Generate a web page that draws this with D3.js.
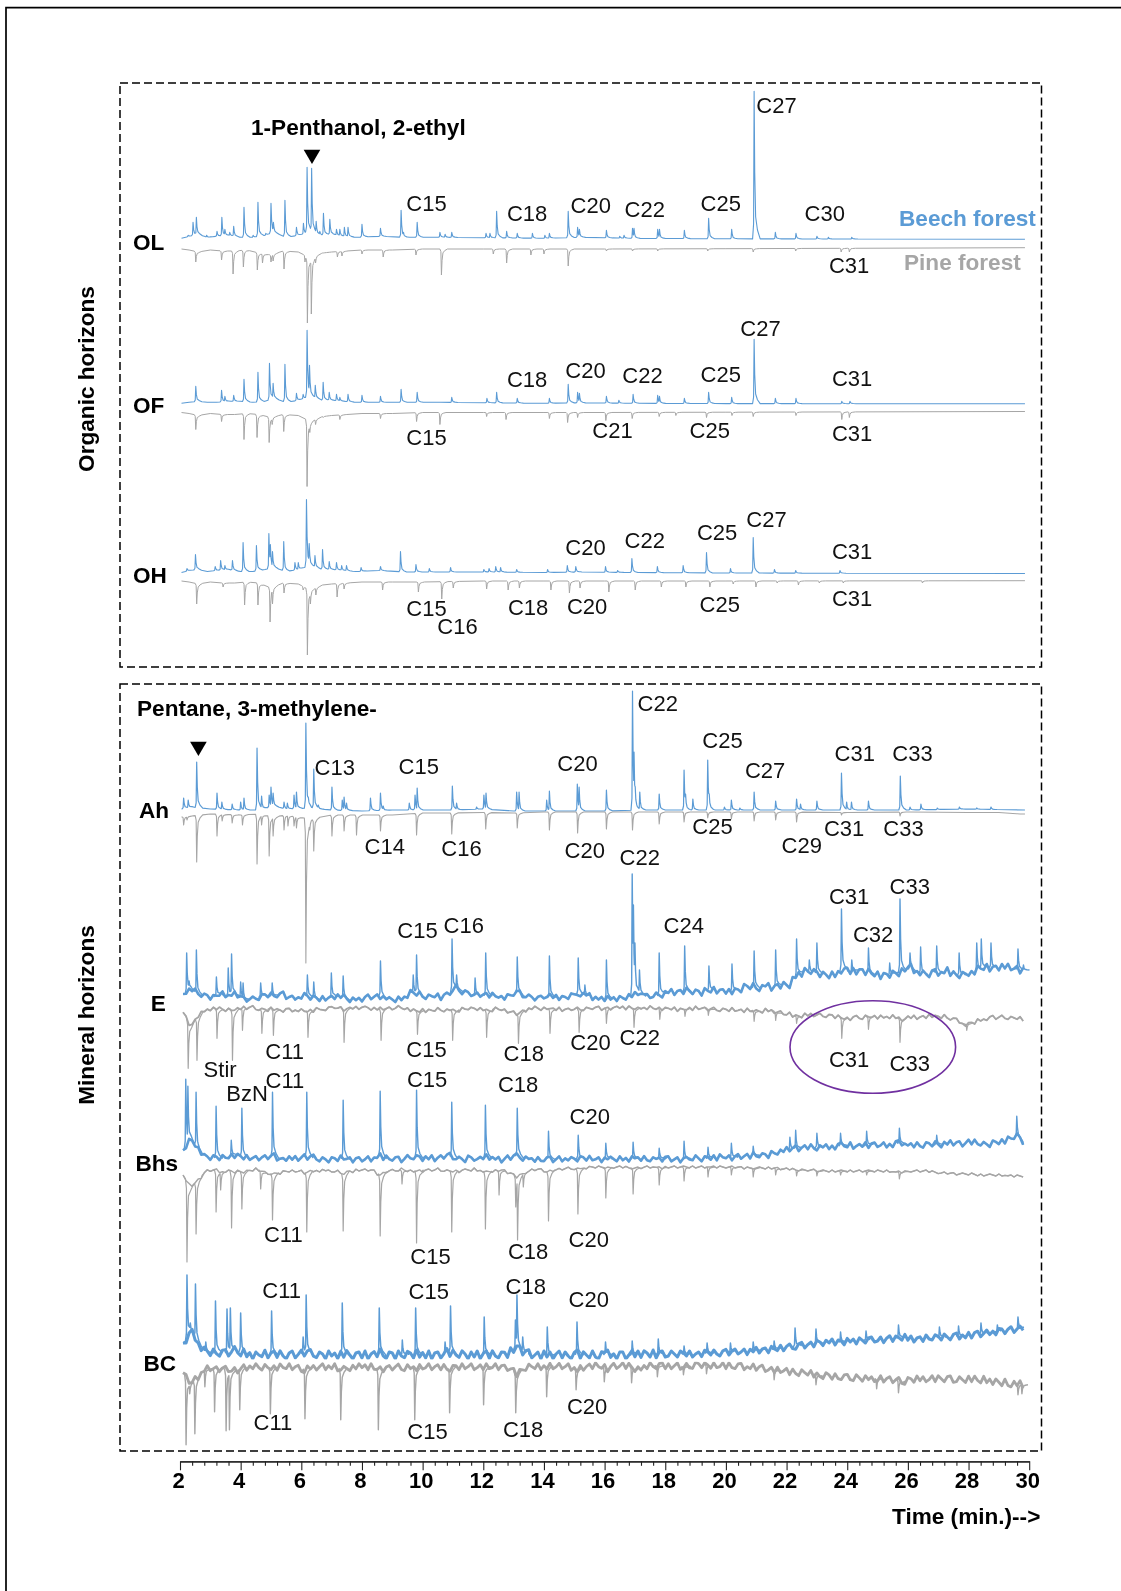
<!DOCTYPE html>
<html>
<head>
<meta charset="utf-8">
<style>
html, body { margin: 0; padding: 0; background: #fff; }
svg { display: block; font-family: "Liberation Sans", Arial, sans-serif; filter: blur(0.35px); }
.peak { font-size: 22px; fill: #111; }
.bold { font-size: 22.6px; font-weight: bold; fill: #000; }
</style>
<script src="https://cdn.jsdelivr.net/npm/d3@7"></script>
</head>
<body>
<svg id="chart" width="1121" height="1591"></svg>
<script>
"use strict";

// x axis
var majorTicks = [2, 4, 6, 8, 10, 12, 14, 16, 18, 20, 22, 24, 26, 28, 30];
var axisTitle = 'Time (min.)-->';

// knots of the slow baseline in the organic horizons
var beechKnotT = [2.05, 2.3, 2.6, 2.9, 3.2, 3.6, 4, 4.4, 4.8, 5.1, 5.5, 5.9, 6.3, 6.7, 7, 7.4, 7.8, 8.6, 9.4, 10.6, 12.3, 14, 15.2, 16.9, 20, 29.86];
var pineKnotT = [2.05, 2.3, 2.6, 3, 3.4, 3.8, 4.2, 4.6, 5, 5.4, 5.9, 6.3, 6.7, 7, 7.5, 8, 9, 10, 12, 14, 16, 20, 29.86];

// OL
var olBeechBaseV = [0, 2, 4, 1, 2, 3, 1, 1, 3, 6, 1, 3, 6, 3, 4, 2, 1, 2, 1, 1, 0.5, 0, 1, 0, -0.5, -1];
var olBeechT = [2.27, 2.43, 2.54, 2.88, 3.22, 3.38, 3.48, 3.64, 3.77, 4.11, 4.41, 4.57, 4.83, 5.0, 5.08, 5.46, 5.84, 6.07, 6.19, 6.34, 6.49, 6.61, 6.73, 6.94, 7.16, 7.27, 7.42, 7.54, 8.0, 8.61, 9.29, 9.37, 9.82, 10.57, 10.74, 10.96, 12.09, 12.22, 12.44, 12.77, 13.12, 13.62, 14.03, 14.18, 14.8, 15.11, 15.17, 16.06, 16.5, 16.64, 16.92, 16.97, 17.75, 17.81, 18.63, 19.43, 20.19, 20.93, 21.63, 22.31, 23.0, 23.38, 24.15];
var olBeechH = [3, 16, 21, 3, 7, 21, 9, 6, 12, 31, 3, 36, 5, 35, 16, 38, 11, 15, 71, 70, 17, 7, 25, 19, 9, 9, 11, 11, 14, 10, 28, 6, 16, 6, 4, 6, 5, 5, 27, 7, 5, 5, 3, 5, 27, 11, 9, 8, 2, 3, 10, 10, 9, 9, 8, 20, 9, 147, 6, 5, 2, 1, 1];
var olPineBaseV = [0, 1, 3, 1, 2, 2, 1, 4, 6, 2, 3, 9, 4, 3, 2, 1, 1, 0, 0, 0, 0, -0.3, -1.3];
var olPineT = [2.52, 3.37, 3.75, 4.09, 4.55, 4.72, 5.0, 5.07, 5.43, 6.12, 6.2, 6.33, 6.47, 6.72, 7.19, 7.34, 8.0, 8.7, 9.78, 10.62, 12.33, 12.77, 13.57, 14.0, 14.8, 16.06, 16.92, 17.75, 19.4, 20.9, 22.3, 23.8, 24.07];
var olPineH = [13, 11, 25, 18, 21, 14, 13, 12, 20, 13, 74, 65, 14, 4, 8, 7, 5, 8, 6, 26, 5, 14, 6, 5, 17, 2, 2, 2, 2, 3, 2, 3, 3];

// OF
var ofBeechBaseV = [0, 1, 2, 1, 1, 2, 2, 1, 2, 5, 1, 3, 7, 3, 3, 2, 1, 1, 1, 1, 0.5, 0, 0.5, 0, -0.3, -0.5];
var ofBeechT = [2.52, 3.37, 3.48, 3.77, 4.11, 4.57, 4.95, 5.07, 5.46, 5.84, 6.06, 6.19, 6.27, 6.46, 6.72, 6.92, 7.16, 7.27, 7.54, 8.0, 8.61, 9.29, 9.82, 10.96, 12.12, 12.44, 13.12, 14.18, 14.8, 15.11, 15.17, 16.06, 16.47, 16.94, 17.75, 17.81, 18.63, 19.43, 20.19, 20.93, 21.63, 22.31, 23.82, 24.09];
var ofBeechH = [17, 13, 7, 8, 24, 31, 40, 20, 39, 10, 9, 73, 38, 18, 21, 11, 9, 6, 9, 8, 7, 14, 11, 6, 5, 11, 5, 5, 19, 11, 10, 7, 3, 9, 8, 7, 5, 11, 6, 64, 5, 5, 2, 2];
var ofPineBaseV = [0, 1, 3, 1, 2, 2, 1, 2, 5, 2, 3, 9, 4, 3, 2, 1, 1, 0, 0, 0, 0, -0.3, -1];
var ofPineT = [2.52, 3.37, 4.11, 4.54, 4.94, 5.04, 5.42, 6.19, 6.28, 6.47, 6.72, 7.27, 8.61, 9.8, 10.57, 12.11, 12.75, 14.18, 14.78, 15.11, 16.04, 16.91, 17.8, 18.35, 19.36, 20.2, 20.9, 22.31, 23.82, 24.07];
var ofPineH = [17, 9, 27, 25, 30, 12, 19, 74, 20, 12, 5, 7, 6, 9, 12, 4, 7, 6, 10, 5, 8, 6, 4, 3, 5, 3, 4, 3, 7, 5];

// OH
var ohBeechBaseV = [0, 2, 3, 1, 2, 3, 1, 1, 3, 5, 1, 3, 7, 3, 3, 2, 1, 2, 0.5, 0.5, 0.5, 0, 0.5, 0, -0.5, -1];
var ohBeechT = [2.23, 2.51, 3.16, 3.34, 3.48, 3.73, 4.08, 4.52, 4.93, 4.98, 5.05, 5.42, 5.79, 5.9, 6.17, 6.26, 6.45, 6.7, 6.92, 7.16, 7.33, 7.49, 7.97, 8.61, 9.27, 9.78, 10.22, 10.92, 12.02, 12.19, 12.41, 12.57, 13.1, 14.12, 14.77, 15.05, 16.03, 16.43, 16.9, 17.74, 18.59, 19.36, 20.15, 20.9, 21.6, 22.3, 23.76];
var ohBeechH = [4, 18, 6, 12, 7, 12, 30, 27, 39, 28, 21, 31, 10, 10, 73, 29, 17, 23, 11, 10, 7, 7, 5, 6, 21, 8, 4, 5, 3, 4, 6, 5, 3, 3, 7, 6, 6, 2, 14, 6, 7, 20, 4, 35, 3, 2, 2];
var ohPineBaseV = [0, 1, 3, 1, 2, 2, 1, 2, 7, 2, 3, 9, 4, 3, 2, 1, 1, 1, 0, 0, 0, 0, -0.3];
var ohPineT = [2.55, 3.42, 4.13, 4.57, 4.97, 5.05, 5.43, 6.06, 6.2, 6.3, 6.48, 7.18, 7.41, 8.68, 9.86, 10.63, 11.01, 12.11, 12.82, 13.19, 14.23, 14.84, 15.19, 16.14, 17.01, 17.87, 18.68, 19.47, 20.24, 20.99, 21.69, 22.39, 23.08, 23.87, 26.48];
var ohPineH = [23, 6, 24, 24, 41, 23, 12, 9, 74, 23, 14, 16, 8, 9, 11, 18, 7, 8, 9, 7, 9, 12, 7, 11, 9, 6, 6, 6, 3, 6, 2, 4, 2, 2, 2];

// Ah
var ahBeechBaseT = [2.05, 2.4, 3, 4, 4.6, 5.1, 5.5, 6.3, 7, 8, 9, 10, 11, 12, 13, 14, 15, 16, 17.2, 18, 20, 22, 24, 26, 28, 29.86];
var ahBeechBaseV = [2, 4, 2, 1, 1, 5, 2, 3, 1, 0, 1, 1, 1, 2, 0, 0, 0, 0, 1, 1, 1, 1, 1, 1, 2, 1];
var ahBeechT = [2.12, 2.27, 2.55, 3.22, 3.38, 3.72, 4.0, 4.11, 4.54, 4.69, 4.94, 5.0, 5.07, 5.43, 5.54, 5.76, 5.84, 6.15, 6.23, 6.41, 6.56, 7.01, 7.35, 7.41, 7.49, 8.28, 8.61, 8.7, 9.56, 9.75, 9.82, 10.98, 11.12, 11.78, 12.02, 12.09, 13.1, 13.18, 14.09, 14.18, 15.1, 15.16, 16.06, 16.92, 16.97, 17.01, 17.16, 17.8, 18.62, 18.67, 18.91, 19.4, 19.45, 19.95, 20.18, 20.46, 20.93, 21.64, 22.33, 22.46, 23.0, 23.81, 23.98, 24.14, 24.7, 25.75, 26.07, 26.43, 26.97, 27.7, 28.27, 28.74];
var ahBeechH = [13, 11, 49, 18, 9, 7, 9, 13, 63, 15, 16, 24, 18, 9, 8, 16, 19, 88, 14, 42, 6, 24, 11, 14, 8, 13, 18, 5, 8, 16, 23, 25, 8, 4, 16, 18, 19, 19, 11, 20, 27, 24, 21, 120, 59, 24, 19, 17, 41, 17, 12, 51, 17, 4, 11, 3, 19, 10, 12, 7, 10, 38, 9, 9, 10, 35, 4, 7, 3, 4, 3, 4];
var ahPineBaseT = [2.05, 2.4, 3, 4, 4.6, 5.1, 5.5, 6.3, 7, 8, 9, 10, 11, 12, 13, 14, 15, 16, 18, 20, 22, 24, 26, 28, 29, 29.7, 29.86];
var ahPineBaseV = [4, 3, 1, 2, 1, 4, 2, 6, 2, 2, 2, 0, 0, -0.5, 0, -1, -1, -1, -1, -1, -1, -0.5, -1, -0.5, -0.5, 1, 1];
var ahPineT = [2.12, 2.23, 2.55, 3.22, 3.39, 3.72, 4.06, 4.54, 4.69, 4.94, 5.07, 5.43, 5.56, 5.76, 5.84, 6.15, 6.28, 6.41, 7.01, 7.41, 7.82, 8.61, 9.8, 10.96, 12.08, 13.12, 14.18, 15.11, 16.06, 16.92, 17.8, 18.62, 19.4, 20.18, 20.93, 21.64, 22.33, 23.81, 25.74];
var ahPineH = [12, 7, 49, 23, 8, 10, 12, 51, 12, 43, 23, 17, 13, 13, 15, 150, 17, 38, 23, 18, 22, 18, 22, 21, 16, 15, 17, 20, 16, 17, 11, 9, 5, 6, 8, 7, 9, 2, 3];

// E
var eBeechBase = [
    1, 9, 3, 1, 0, 3, 1, 4, -3, -2, 0, 2, 1, 3, 0, -2,
    2, 0, -3, -1, 1, 0, -3, -2, -1, 0, 1, -2, -3, -2, 5, 3,
    0, 1, 0, 3, 9, 5, 3, 1, 2, 1, 0, 1, 5, 1, 0, -1,
    0, 0, 0, 0, 3, 2, 0, -2, -2, -1, -1, 0, 5, 1, 1, 2,
    5, 5, 5, 6, 5, 6, 7, 6, 5, 7, 10, 10, 9, 11, 10, 12,
    12, 22, 26, 25, 24, 22, 21, 28, 25, 27, 25, 23, 22, 22, 24, 26,
    29, 24, 23, 25, 24, 26, 22, 22, 24, 28, 30, 29, 30, 29, 28, 27
];
var eBeechT = [2.22, 2.3, 2.54, 3.2, 3.59, 3.7, 4.0, 4.08, 4.66, 5.04, 6.2, 6.41, 6.99, 7.38, 8.61, 9.69, 9.8, 10.97, 11.12, 11.73, 12.08, 13.12, 14.18, 15.13, 15.35, 16.06, 16.91, 16.95, 17.0, 17.15, 17.8, 18.64, 19.44, 20.2, 20.93, 21.64, 22.33, 22.75, 23.0, 23.81, 24.15, 24.7, 25.4, 25.74, 26.07, 26.42, 26.95, 27.69, 28.27, 28.42, 28.74, 29.63, 29.81];
var eBeechH = [44, 16, 47, 20, 29, 43, 15, 14, 14, 14, 22, 15, 24, 21, 36, 22, 42, 58, 22, 19, 44, 40, 41, 39, 12, 37, 123, 92, 54, 27, 44, 51, 31, 33, 46, 47, 58, 37, 54, 88, 37, 49, 34, 98, 44, 50, 51, 44, 54, 58, 54, 48, 32];
var eBeechNoise = [
    2, -1, 1, -2, 3, 0, -2, 2, 1, -3, 2, 0, -1, 3, -2, 1, -1, 2, -3, 1,
    3, -2, 0, 2, -1, -3, 2, 1, -2, 3, 0, -2, 1, 3, -3, 0, 2, -1, 1, -2,
    2, 0, -3, 2, 1, -1, 3, -2, 0, 1, -3, 2, -1, 3, 0, -2, 2, -1, 1, -3,
    1, 3, -2, 0, 2, -3, 1, -1, 2, 0, -2, 3, -1, 1, -3, 2, 0, -2, 3, -1,
    -2, 2, 0, -1, 3, -3, 1, 2, -2, 0, 3, -1, -3, 2, 1, -2, 0, 3, -1, 1,
    2, -2, 3, 0, -1, 1, -3, 2, 0, -2, 1, 3, -2, -1, 2, 0, -3, 1, 2, -1,
    0, 3, -1, 2, -3, 1, 0, -2, 3, 1, -1, -2, 2, 0, 3, -3, 1, -1, 2, -2,
    3, -1, 1, -3, 2, 0, -2, 3, -1, 2, -3, 0, 1, 2, -2, -1, 3, 0, -3, 2,
    -1, 3, -3, 1, 2, -2, 4, 0, -3, 2, 1, -4, 3, 0, -2, 3, -3, 1, 2, -2,
    3, -3, 2, 0, -4, 3, 1, -2, 4, -1, -3, 2, 0, 3, -4, 1, 2, -3, 3, 0,
    -3, 4, -1, 2, -4, 3, 0, -2, 3, 1, -4, 2, 0, -3, 4, -1, 2, -3, 1, 3,
    -2, 3, -4, 1, 2, -3, 4, 0, -2, 3, -4, 2, 1, -3, 3, 0, -4, 3, -1, 2,
    4, -3, 1, -2, 3, 0, -4, 2, 3, -3, 1, -1, 4, -4, 2, 0, -3, 3, 1, -2,
    2, -3, 4, 0, -2, 3, -4, 1, 2, -3, 3, -1, 4, -2, 0, 3, -4, 2, -1, 1
];
var ePineBase = [
    3, 18, 8, 1, 0, 1, 1, 2, -1, -1, 1, 1, 1, 2, 1, 2,
    3, 2, 1, 0, -1, 1, 0, -1, -1, 0, 1, 0, -1, 0, 1, 3,
    2, 2, 1, 2, 2, 1, 0, 0, 2, 1, 1, 3, 6, 2, 0, 0,
    0, 1, 1, 1, 1, 0, 0, 0, 0, -1, -1, 0, 0, -1, 0, 0,
    0, 1, 1, 0, 0, 0, 1, 1, 1, 2, 2, 2, 3, 2, 3, 5,
    6, 8, 7, 6, 7, 7, 8, 10, 10, 9, 9, 8, 9, 8, 9, 11,
    9, 9, 8, 8, 8, 9, 12, 16, 15, 12, 10, 9, 9, 9, 10, 11
];
var ePineT = [2.27, 2.56, 3.22, 3.73, 4.06, 4.7, 5.08, 6.22, 7.41, 8.63, 9.83, 10.99, 12.11, 13.16, 14.2, 15.16, 16.06, 16.97, 17.82, 18.65, 19.42, 20.93, 21.64, 22.33, 23.82, 24.7, 25.74, 27.94];
var ePineH = [60, 52, 30, 52, 22, 25, 27, 29, 34, 32, 26, 32, 29, 35, 25, 24, 15, 19, 11, 8, 7, 13, 12, 15, 30, 21, 34, 22];
var ePineNoise = [
    1, -1, 2, 0, -1, 1, -2, 1, 0, 2, -1, 1, -2, 0, 2, -1, 1, 0, -2, 1,
    -1, 2, 0, -2, 1, 1, -1, 0, 2, -2, 1, -1, 0, 2, -1, -1, 2, 0, 1, -2,
    0, 1, -1, 2, -2, 0, 1, 2, -1, -1, 1, 0, -2, 2, 0, -1, 1, -1, 2, 0,
    -1, 0, 2, -1, 1, -2, 1, 0, -1, 2, 1, -2, 0, 1, -1, 2, -1, 0, 1, -2,
    2, -1, 0, 1, -2, 1, 2, -1, 0, -1, 1, 2, -2, 0, 1, -1, 0, 2, -1, 1,
    -1, 1, 2, -2, 0, 1, -1, 2, 0, -2, 1, 0, -1, 2, -1, 1, -2, 0, 2, -1,
    1, 0, -1, 1, -2, 2, 0, -1, 1, 0, -2, 1, 2, -1, 0, 1, -1, -2, 2, 0,
    -1, 2, 0, -1, 1, -1, 2, -2, 0, 1, -1, 1, 0, 2, -2, 0, 1, -1, 2, -1,
    0, 1, -2, 2, -1, 0, 1, -1, 2, -2, 1, 0, -1, 2, 0, -2, 1, 2, -1, 0,
    2, -2, 1, 0, -1, 2, -2, 1, 1, -1, 0, 2, -2, 1, -1, 2, 0, -2, 1, 1,
    -2, 2, -1, 0, 2, -2, 1, -1, 2, 0, -2, 1, 2, -1, -1, 2, -2, 0, 1, -1,
    2, -1, -2, 1, 2, -2, 0, 1, -1, 2, -2, 1, 0, 2, -2, 1, -1, 2, 0, -2,
    1, -2, 2, 0, -1, 2, -2, 1, -1, 0, 2, -2, 1, 2, -1, -2, 1, 0, 2, -1,
    -1, 2, -2, 1, 0, 2, -1, -2, 2, 0, -2, 1, 2, -1, 0, 1, -2, 2, -1, 1
];

// Bhs
var bhsBeechBase = [
    7, 20, 8, 2, 1, 0, 1, 4, 1, -1, 1, 1, 2, -1, 0, -1,
    2, 1, -1, -1, -1, 0, -1, -1, -1, -1, 3, -1, 0, -1, 1, 1,
    0, 0, 1, 3, 0, -1, 0, -1, 1, 0, -1, 0, 3, 0, -1, -2,
    0, -1, -1, -1, 0, 0, -1, -1, 0, -1, -1, 0, 0, -1, -1, 0,
    -1, -1, -1, 0, 0, 0, 1, 1, 1, 1, 2, 3, 3, 3, 5, 7,
    9, 10, 11, 11, 11, 11, 12, 13, 13, 12, 13, 14, 13, 13, 15, 15,
    13, 13, 14, 14, 14, 15, 15, 15, 16, 15, 14, 15, 17, 19, 23, 15
];
var bhsBeechT = [2.19, 2.26, 2.53, 3.19, 3.69, 4.04, 5.05, 6.18, 7.38, 8.6, 9.8, 10.96, 12.07, 13.12, 14.15, 15.13, 16.04, 16.94, 17.8, 18.62, 19.41, 20.18, 20.9, 22.11, 22.3, 23.0, 23.78, 24.64, 25.72, 26.95, 29.59];
var bhsBeechH = [79, 72, 66, 52, 18, 50, 66, 66, 58, 67, 68, 56, 53, 50, 27, 23, 15, 16, 10, 17, 11, 15, 12, 21, 28, 25, 25, 27, 30, 23, 42];
var bhsBeechNoise = [
    1, -2, 2, 0, -1, 3, -2, 1, 0, -3, 2, 1, -2, 3, 0, -1, 2, -3, 1, 0,
    -2, 3, -1, 1, 2, -3, 0, 2, -2, 1, 3, -3, 0, 1, -2, 2, -1, 3, -2, 0,
    2, -3, 1, 3, -1, -2, 2, 0, -3, 2, 1, -2, 3, -1, 0, 2, -3, 1, 2, -2,
    0, 3, -2, 1, -1, 2, -3, 3, 0, -2, 1, 2, -3, 0, 3, -1, -2, 2, 1, -3,
    2, -1, 3, -3, 0, 2, -2, 1, 3, -2, -1, 2, 0, -3, 3, 1, -2, 0, 2, -1,
    3, -2, 1, -1, 2, -3, 0, 3, -2, 1, 2, -1, -3, 2, 0, 1, -2, 3, -1, -2,
    1, 2, -3, 0, 3, -2, 1, -1, 2, 0, -3, 2, 1, -2, 3, -1, 0, 2, -3, 1,
    -1, 2, 0, -2, 3, -1, 1, -3, 2, 0, 1, -2, 3, -1, -2, 2, 0, 1, -3, 2,
    3, -2, 0, 2, -3, 1, 2, -1, -2, 3, 0, -3, 2, 1, -2, 2, -3, 3, 0, -1,
    2, -3, 1, 3, -2, 0, 2, -3, 3, -1, -2, 2, 1, -3, 3, 0, -2, 2, -1, 3,
    -2, 1, 3, -3, 0, 2, -2, 3, -1, -3, 2, 0, 3, -2, 1, -3, 2, 3, -1, -2,
    3, -3, 0, 2, -1, 3, -3, 1, 2, -2, 0, 3, -2, 1, -3, 2, 3, -2, 0, -1,
    2, -2, 3, -1, -3, 2, 1, -2, 3, 0, -3, 2, -1, 3, -2, 1, 2, -3, 0, 3,
    -2, 3, -1, -2, 2, 0, -3, 3, 1, -2, 2, -3, 3, 0, -2, 2, 1, -3, 3, -1
];
var bhsPineBase = [
    5, 17, 10, 1, 0, 2, 1, 1, 2, 0, 0, 3, 4, 2, 1, 1,
    3, 1, 0, 1, 1, 4, 1, 0, 0, 0, 5, 1, 0, 0, 1, 1,
    0, 0, 0, 1, 1, 0, 0, 0, 2, 1, 0, 2, 7, 3, 0, -1,
    2, 0, -1, -2, -1, -2, -3, -3, -2, -3, -3, -2, -2, -3, -3, -2,
    -3, -3, -3, -3, -3, -3, -3, -3, -3, -3, -2, -2, -2, -2, -2, -1,
    -1, 0, 0, 0, 1, 1, 1, 1, 1, 1, 1, 1, 1, 1, 2, 2,
    1, 1, 1, 2, 3, 3, 4, 4, 4, 5, 5, 5, 5, 6, 6, 6
];
var bhsPineT = [2.23, 2.53, 3.19, 3.34, 3.7, 4.04, 4.66, 5.05, 6.18, 7.38, 8.6, 9.32, 9.8, 10.96, 12.07, 12.52, 13.07, 13.13, 13.32, 14.15, 15.12, 16.04, 16.94, 17.8, 18.62, 19.41, 20.18, 20.9, 21.64, 22.33, 23.0, 23.78, 24.64, 25.72];
var bhsPineH = [92, 64, 42, 20, 58, 39, 19, 50, 62, 61, 66, 14, 73, 62, 59, 25, 37, 70, 17, 51, 44, 28, 24, 15, 11, 7, 5, 7, 5, 6, 6, 5, 5, 9];
var bhsPineNoise = [
    0, 1, -1, 1, 0, -1, 2, 0, -1, 1, 0, -2, 1, 0, 1, -1, 0, 2, -1, 0,
    1, -1, 0, 1, -2, 1, 0, -1, 1, 1, -1, 0, 2, -1, 0, 1, -1, 1, 0, -2,
    1, 0, -1, 1, 0, 2, -1, 0, -1, 1, 1, -2, 0, 1, -1, 0, 2, -1, 1, 0,
    -1, 1, 0, -1, 2, 0, -1, 1, 0, -1, 1, 1, -2, 0, 1, -1, 1, 0, -1, 2,
    0, -1, 1, 0, -2, 1, 1, -1, 0, 1, -1, 2, 0, -1, 0, 1, -2, 1, 0, 1,
    -1, 0, 1, -1, 1, 0, -1, 2, 0, -1, 1, -1, 0, 1, 0, -1, 1, 0, -1, 1,
    0, -1, 1, 0, -1, 1, 0, -1, 1, 1, -1, 0, 0, 1, -1, 0, 1, -1, 0, 1,
    -1, 0, 1, 0, -1, 1, -1, 0, 1, 0, -1, 1, 0, -1, 1, 0, 0, -1, 1, -1,
    1, 0, -1, 1, 0, -1, 0, 1, -1, 1, 0, -1, 1, 0, 0, -1, 1, -1, 0, 1,
    0, -1, 1, 0, -1, 1, -1, 0, 1, 0, -1, 0, 1, -1, 1, 0, -1, 1, 0, -1,
    1, -1, 0, 1, -1, 0, 1, 0, -1, 1, 0, -1, 0, 1, -1, 1, 0, -1, 0, 1,
    -1, 1, 0, -1, 1, 0, -1, 0, 1, -1, 0, 1, -1, 1, 0, 0, -1, 1, -1, 0,
    1, 0, -1, 1, 0, -1, 1, -1, 0, 1, 0, -1, 1, 0, -1, 1, 0, -1, 0, 1,
    -1, 0, 1, -1, 1, 0, -1, 0, 1, -1, 1, 0, 0, -1, 1, -1, 0, 1, -1, 1
];

// BC
var bcBeechBase = [
    9, 24, 12, 3, 2, 3, 2, 5, 2, 0, 0, 1, 1, 0, 0, 0,
    3, 1, 0, 0, 0, 1, 0, 0, 0, 0, 2, 0, 0, 0, 1, 1,
    0, 0, 0, 3, 1, 0, 0, 0, 1, 0, 0, 2, 8, 3, 0, 0,
    0, 0, 0, 0, 1, 0, 0, 0, 1, 0, 0, 0, 2, 1, 1, 1,
    1, 1, 1, 1, 1, 2, 2, 2, 3, 3, 3, 4, 5, 5, 6, 7,
    8, 9, 10, 11, 12, 13, 13, 13, 14, 14, 15, 15, 15, 16, 17, 18,
    16, 16, 17, 17, 18, 18, 19, 19, 20, 21, 22, 23, 24, 25, 26, 28
];
var bcBeechT = [2.23, 2.34, 2.51, 2.85, 3.17, 3.55, 3.66, 4.0, 5.02, 6.06, 6.16, 7.35, 8.57, 9.33, 9.77, 10.74, 10.92, 12.03, 13.06, 13.11, 13.3, 14.11, 15.09, 16.03, 16.91, 17.77, 18.62, 19.38, 20.15, 20.9, 21.59, 22.28, 22.97, 23.78, 24.62, 25.69, 27.04, 27.67, 28.41, 28.95, 29.63];
var bcBeechH = [80, 32, 71, 13, 54, 46, 47, 42, 44, 18, 60, 52, 47, 15, 47, 13, 49, 38, 35, 60, 18, 28, 33, 13, 14, 16, 9, 12, 12, 13, 14, 27, 26, 23, 24, 30, 28, 29, 32, 30, 38];
var bcBeechNoise = [
    3, -3, 1, 4, -2, 0, -4, 3, 1, -3, 4, -1, -4, 2, 3, -3, 0, 4, -2, -4,
    4, -3, 2, -4, 3, 0, -2, 4, -4, 1, 3, -3, 4, -1, -4, 2, 4, -3, 0, 3,
    -4, 2, 4, -2, -3, 3, 1, -4, 4, -1, 2, -4, 3, -3, 4, 0, -4, 2, 3, -3,
    4, -4, 1, 3, -3, 4, -2, -4, 3, 2, -4, 4, -1, -3, 3, 1, -4, 4, -3, 2,
    -3, 4, -4, 2, 3, -3, 0, 4, -4, 3, -1, -3, 4, 1, -4, 3, -2, 4, -4, 1,
    3, -4, 4, -1, -3, 3, 2, -4, 4, -3, 1, 3, -4, 2, 4, -3, 0, 3, -4, 4,
    -2, 3, -4, 1, 4, -3, 3, -1, -4, 2, 4, -4, 3, 0, -3, 4, -2, -4, 3, 2,
    4, -3, 1, -4, 3, 3, -4, 0, 4, -3, 2, -4, 3, 1, -3, 4, -4, 2, 3, -3,
    -2, 3, 0, -3, 3, 1, -2, 3, -3, 0, 2, -3, 3, 1, -2, 3, -1, -3, 2, 3,
    -3, 1, 3, -2, 0, 3, -3, 2, -1, 3, -3, 1, 2, -3, 3, 0, -2, 3, -3, 1,
    3, -2, -3, 2, 3, -3, 0, 2, -3, 3, 1, -3, 2, -1, 3, -3, 2, 1, -3, 3,
    -1, 2, -3, 3, 0, -3, 2, 3, -2, -1, 3, -3, 1, 3, -3, 2, 0, -3, 3, -2,
    3, -3, 1, 2, -3, 3, -1, -2, 3, 1, -3, 3, 0, -3, 2, 3, -3, 1, -2, 3,
    -3, 2, 3, -3, 0, 3, -2, 1, -3, 3, 2, -3, 1, 3, -3, 0, 2, -3, 3, -1
];
var bcPineBase = [
    5, 17, 10, 2, 2, 2, 3, 4, 1, 0, 0, 1, 1, 0, 0, 0,
    3, 1, 0, 0, 0, 3, 1, 0, 0, 0, 3, 1, 0, 1, 1, 1,
    0, 0, 0, 2, 0, 0, 0, 0, 0, 0, 0, 1, 7, 1, 0, 0,
    0, -1, 0, 0, 3, 0, -1, -1, 2, -1, -2, 0, 3, -1, -1, -1,
    -1, -1, 0, -1, -2, -2, -1, -1, -1, -1, 0, 0, 1, 2, 3, 4,
    5, 6, 6, 7, 9, 9, 10, 10, 11, 11, 12, 12, 12, 13, 13, 15,
    13, 12, 12, 12, 12, 12, 13, 13, 12, 13, 14, 15, 16, 17, 18, 18
];
var bcPineT = [2.2, 2.32, 2.49, 2.82, 3.14, 3.52, 3.63, 3.97, 4.98, 6.12, 7.3, 8.54, 9.74, 10.89, 12.01, 13.07, 14.09, 15.06, 15.99, 16.89, 17.74, 18.6, 19.36, 21.59, 22.97, 24.97, 25.69, 29.63, 29.76];
var bcPineH = [78, 27, 67, 20, 45, 64, 63, 43, 47, 52, 53, 63, 53, 46, 38, 46, 30, 23, 15, 16, 10, 8, 7, 13, 18, 22, 26, 28, 27];
var bcPineNoise = [
    1, -2, 2, 0, -3, 3, -1, 1, -3, 2, 0, -2, 3, -1, -3, 2, 1, -3, 3, 0,
    -3, 3, -1, 2, -3, 1, 3, -3, 0, 2, -2, 3, -3, 1, 2, -3, 3, 0, -2, 3,
    3, -3, 1, -2, 3, 0, -3, 3, -1, 2, -3, 3, 1, -3, 0, 3, -2, 2, -3, 1,
    -2, 3, -3, 2, 1, -3, 3, -1, -2, 3, 0, -3, 2, 3, -3, 1, -1, 3, -3, 2,
    1, -3, 3, 0, -2, 3, -3, 1, 3, -2, -1, 3, -3, 2, 0, -3, 3, 1, -2, 3,
    -3, 2, 1, -3, 3, -1, -2, 3, 0, -3, 3, -2, 1, 3, -3, 0, 2, -3, 3, -1,
    2, -3, 3, 1, -3, 2, 0, -3, 3, -1, 2, -3, 3, 0, -2, 3, -3, 1, 2, -3,
    3, -1, -3, 3, 1, -2, 3, -3, 0, 3, -3, 2, -1, 3, -3, 1, 3, -2, -3, 3,
    -2, 3, 0, -3, 3, 1, -3, 2, 3, -3, -1, 3, -2, 0, 3, -3, 2, 1, -3, 3,
    -3, 2, 3, -2, -3, 3, 0, 2, -3, 3, -1, -3, 3, 1, -2, 3, -3, 2, 0, -3,
    3, -3, 1, 3, -3, 0, 2, -3, 3, -2, 1, 3, -3, -1, 3, -3, 2, 3, -2, -3,
    2, 3, -3, 0, 3, -3, 1, -2, 3, 2, -3, 3, -1, -3, 3, 0, -3, 2, 3, -3,
    -1, 3, -3, 2, -2, 3, 1, -3, 3, -3, 0, 3, -2, -3, 3, 2, -3, 0, 3, -3,
    3, -3, 1, 3, -4, 2, -2, 3, -3, 0, 3, -4, 2, 3, -3, 1, -4, 3, -2, 3
];

// layout from here on
var width = 1121;
var height = 1591;
var knotStep = 0.25;
var noiseStep = 0.1;
var beechColor = '#5b9bd5';
var pineColor = '#a6a6a6';

// x scale runs from the 2 tick to the 30 tick
var x = d3.scaleLinear().domain([2, 30]).range([180, 1029.2]);
var svg = d3.select('#chart');

function knotGrid(vals) {
    return d3.range(vals.length).map(i => 2.1 + i * knotStep);
}

// y0 is the zero line in page pixels, dir is 1 for beech (up) and -1 for pine (down)
var traces = [
    { baseT: beechKnotT, baseV: olBeechBaseV, t: olBeechT, h: olBeechH, y0: 238.3, dir: 1, color: beechColor, w: 1.1 },
    { baseT: pineKnotT, baseV: olPineBaseV, t: olPineT, h: olPineH, y0: 249, dir: -1, color: pineColor, w: 1 },
    { baseT: beechKnotT, baseV: ofBeechBaseV, t: ofBeechT, h: ofBeechH, y0: 403.3, dir: 1, color: beechColor, w: 1.1 },
    { baseT: pineKnotT, baseV: ofPineBaseV, t: ofPineT, h: ofPineH, y0: 412.5, dir: -1, color: pineColor, w: 1 },
    { baseT: beechKnotT, baseV: ohBeechBaseV, t: ohBeechT, h: ohBeechH, y0: 572.5, dir: 1, color: beechColor, w: 1.1 },
    { baseT: pineKnotT, baseV: ohPineBaseV, t: ohPineT, h: ohPineH, y0: 581, dir: -1, color: pineColor, w: 1 },
    { baseT: ahBeechBaseT, baseV: ahBeechBaseV, t: ahBeechT, h: ahBeechH, y0: 811, dir: 1, color: beechColor, w: 1.2 },
    { baseT: ahPineBaseT, baseV: ahPineBaseV, t: ahPineT, h: ahPineH, y0: 813, dir: -1, color: pineColor, w: 1.1 },
    { baseT: knotGrid(eBeechBase), baseV: eBeechBase, t: eBeechT, h: eBeechH, noise: eBeechNoise, y0: 997, dir: 1, color: beechColor, w: 1.4, band: 2.6 },
    { baseT: knotGrid(ePineBase), baseV: ePineBase, t: ePineT, h: ePineH, noise: ePineNoise, y0: 1008.3, dir: -1, color: pineColor, w: 1.2, band: 1.8 },
    { baseT: knotGrid(bhsBeechBase), baseV: bhsBeechBase, t: bhsBeechT, h: bhsBeechH, noise: bhsBeechNoise, y0: 1158.3, dir: 1, color: beechColor, w: 1.4, band: 2.6 },
    { baseT: knotGrid(bhsPineBase), baseV: bhsPineBase, t: bhsPineT, h: bhsPineH, noise: bhsPineNoise, y0: 1170, dir: -1, color: pineColor, w: 1.2, band: 1.4 },
    { baseT: knotGrid(bcBeechBase), baseV: bcBeechBase, t: bcBeechT, h: bcBeechH, noise: bcBeechNoise, y0: 1355, dir: 1, color: beechColor, w: 1.5, band: 3 },
    { baseT: knotGrid(bcPineBase), baseV: bcPineBase, t: bcPineT, h: bcPineH, noise: bcPineNoise, y0: 1366.7, dir: -1, color: pineColor, w: 1.4, band: 2.8 }
];

// shape of one peak, as a share of its height, against the minutes from its apex
var peakDx = [-0.05, -0.018, 0, 0.02, 0.05, 0.11, 0.2];
var peakShare = d3.scaleLinear().domain(peakDx).range([0, 0.1, 1, 0.45, 0.15, 0.06, 0]).clamp(true);

function noisePoints(tr, base) {
    var pts = [];
    tr.noise.forEach((n, i) => {
        var t = 2.1 + i * noiseStep;
        if (t < 29.9) pts.push([t, base(t) + n]);
    });
    return pts;
}

function tracePoints(tr) {
    var base = d3.scaleLinear().domain(tr.baseT).range(tr.baseV).clamp(true);
    var pts = tr.noise ? noisePoints(tr, base) : tr.baseT.map((t, i) => [t, tr.baseV[i]]);
    tr.t.forEach(t => peakDx.forEach(dx => pts.push([t + dx, base(t + dx)])));
    pts.sort((a, c) => a[0] - c[0]);
    // the tallest peak at each time wins, so neighbours merge as in the trace
    return pts.map(p => {
        var v = p[1];
        tr.t.forEach((t, i) => {
            var s = peakShare(p[0] - t);
            if (s > 0) {
                var b = base(t);
                v = Math.max(v, base(p[0]) + s * (tr.h[i] - b));
            }
        });
        return [p[0], v];
    });
}

function drawFrame() {
    svg.append('rect').attr('width', width).attr('height', height).attr('fill', '#fff');
    svg.append('path')
        .attr('d', 'M1121,7.7H6V1591')
        .attr('fill', 'none')
        .attr('stroke', '#000')
        .attr('stroke-width', 1.7);

    var boxes = [[120, 83, 921.5, 584], [120, 684, 921.5, 767]];
    svg.selectAll('.box').data(boxes).enter().append('rect')
        .attr('class', 'box')
        .attr('x', d => d[0])
        .attr('y', d => d[1])
        .attr('width', d => d[2])
        .attr('height', d => d[3])
        .attr('fill', 'none')
        .attr('stroke', '#000')
        .attr('stroke-width', 1.5)
        .attr('stroke-dasharray', '8,4');
}

function drawTraces() {
    var g = svg.append('g').attr('class', 'traces');
    traces.forEach(tr => {
        var y = d3.scaleLinear().domain([0, 100]).range([tr.y0, tr.y0 - 100 * tr.dir]);
        var line = d3.line().x(d => x(d[0])).y(d => y(d[1]));
        if (tr.band) {
            // the noise is so dense in the original that it reads as a solid band
            var base = d3.scaleLinear().domain(tr.baseT).range(tr.baseV).clamp(true);
            g.append('path')
                .attr('d', line(noisePoints(tr, base)))
                .attr('fill', 'none')
                .attr('stroke', tr.color)
                .attr('stroke-width', tr.band)
                .attr('stroke-linejoin', 'round');
        }
        g.append('path')
            .attr('d', line(tracePoints(tr)))
            .attr('fill', 'none')
            .attr('stroke', tr.color)
            .attr('stroke-width', tr.w)
            .attr('stroke-linejoin', 'round');
    });
    // the BC pair is cut apart by a thin white gap in the original
    g.append('rect')
        .attr('x', x(4))
        .attr('y', 1359.4)
        .attr('width', x(21) - x(4))
        .attr('height', 2.4)
        .attr('fill', '#fff');
}

function drawAxis() {
    var minor = d3.range(2, 30.01, 0.4).filter(t => Math.abs(t / 2 - Math.round(t / 2)) > 0.01);
    var axis = svg.append('g').attr('transform', 'translate(0,1461.3)');

    var minorAxis = d3.axisBottom(x).tickValues(minor).tickSize(4.5).tickFormat('').tickSizeOuter(0);
    axis.append('g').call(minorAxis);

    var majorAxis = d3.axisBottom(x).tickValues(majorTicks).tickSize(9).tickPadding(2.5).tickSizeOuter(0);
    var m = axis.append('g').call(majorAxis);
    m.selectAll('text')
        .attr('dx', -2)
        .style('font-family', '"Liberation Sans", Arial, sans-serif')
        .style('font-size', '22px')
        .style('font-weight', 'bold')
        .style('fill', '#000');

    axis.selectAll('path.domain').attr('stroke', '#222').attr('stroke-width', 1.2);
    axis.selectAll('line').attr('stroke', '#222').attr('stroke-width', 1.1);

    svg.append('text').attr('class', 'bold').attr('x', 892).attr('y', 1524.3).text(axisTitle);
}

function drawLabels() {
    var peakLabels = [
        ['C15', 406.7, 211], ['C18', 507.3, 221], ['C20', 571, 213], ['C22', 625, 217], ['C25', 701, 210.7], ['C27', 756.7, 112.7], ['C30', 805, 221], ['C31', 829.3, 272.7],
        ['C18', 507.3, 386.7], ['C20', 565.7, 378], ['C22', 622.7, 383.3], ['C25', 701, 381.7], ['C27', 740.7, 336], ['C31', 832.3, 385.7],
        ['C15', 406.7, 445], ['C21', 592.7, 437.7], ['C25', 690, 437.7], ['C31', 832.3, 441],
        ['C20', 565.7, 555.3], ['C22', 625, 547.7], ['C25', 697.3, 540], ['C27', 746.7, 527.3], ['C31', 832.3, 559],
        ['C15', 406.7, 616], ['C16', 437.7, 634.3], ['C18', 508.3, 615], ['C20', 567.3, 614.3], ['C25', 700, 612.3], ['C31', 832.3, 606],
        ['C13', 315, 774.7], ['C15', 399, 774], ['C20', 557.7, 770.7], ['C22', 638, 710.7], ['C25', 702.7, 747.7], ['C27', 745.3, 778.3], ['C31', 835, 761], ['C33', 892.7, 761],
        ['C14', 365, 854], ['C16', 441.7, 855.7], ['C20', 565, 858.3], ['C25', 692.7, 834.3], ['C29', 782, 853.3], ['C31', 824.3, 835.7], ['C33', 883.7, 835.7],
        ['C15', 397.7, 937.7], ['C16', 444, 933.3], ['C22', 620, 865], ['C24', 664, 932.7], ['C31', 829.3, 904.3], ['C32', 853.3, 941.7], ['C33', 890, 894],
        ['C11', 265.7, 1059.3], ['C15', 406.7, 1057.3], ['C18', 504, 1061], ['C20', 570.7, 1050], ['C22', 620, 1045], ['C31', 829.3, 1066.7], ['C33', 890, 1070.7], ['Stir', 204, 1076.7],
        ['BzN', 226.7, 1100.7], ['C11', 266, 1088.3], ['C15', 407.3, 1087.3], ['C18', 498.3, 1091.7], ['C20', 570, 1124],
        ['C11', 264.3, 1241.7], ['C15', 410.7, 1264], ['C18', 508.3, 1259.3], ['C20', 569, 1247.3],
        ['C11', 262.7, 1297.7], ['C15', 409, 1299], ['C18', 506, 1294], ['C20', 569, 1307.3],
        ['C11', 254, 1430], ['C15', 407.7, 1439], ['C18', 503.3, 1436.7], ['C20', 567.3, 1414.3]
    ];
    svg.selectAll('.peak').data(peakLabels).enter().append('text')
        .attr('class', 'peak')
        .attr('x', d => d[1] - 0.4)
        .attr('y', d => d[2])
        .text(d => d[0]);

    var boldLabels = [
        ['1-Penthanol, 2-ethyl', 251, 135], ['Pentane, 3-methylene-', 137, 715.7],
        ['OL', 133, 250], ['OF', 133, 413.3], ['OH', 133, 583.3],
        ['Ah', 139, 818.3], ['E', 150.7, 1011], ['Bhs', 135.5, 1170.7], ['BC', 143.5, 1370.7]
    ];
    svg.selectAll('.hz').data(boldLabels).enter().append('text')
        .attr('class', 'bold hz')
        .attr('x', d => d[1])
        .attr('y', d => d[2])
        .text(d => d[0]);

    svg.append('text').attr('class', 'bold').attr('x', 899).attr('y', 225.7)
        .style('fill', beechColor).text('Beech forest');
    svg.append('text').attr('class', 'bold').attr('x', 904).attr('y', 270)
        .style('fill', pineColor).text('Pine forest');

    var sideLabels = [['Organic horizons', 379], ['Mineral horizons', 1015]];
    svg.selectAll('.side').data(sideLabels).enter().append('text')
        .attr('class', 'bold side')
        .attr('text-anchor', 'middle')
        .attr('transform', d => `translate(94,${d[1]}) rotate(-90)`)
        .text(d => d[0]);
}

function drawMarks() {
    var tri = d3.symbol().type(d3.symbolTriangle).size(120);
    var spots = [[312, 154.5], [198.4, 746.5]];
    svg.selectAll('.tri').data(spots).enter().append('path')
        .attr('class', 'tri')
        .attr('d', tri)
        .attr('transform', d => `translate(${d[0]},${d[1]}) rotate(180)`)
        .attr('fill', '#000');

    svg.append('ellipse')
        .attr('cx', 872.8)
        .attr('cy', 1047)
        .attr('rx', 82.8)
        .attr('ry', 46.3)
        .attr('fill', 'none')
        .attr('stroke', '#7030a0')
        .attr('stroke-width', 1.6);
}

drawFrame();
drawTraces();
drawAxis();
drawLabels();
drawMarks();
</script>
</body>
</html>
